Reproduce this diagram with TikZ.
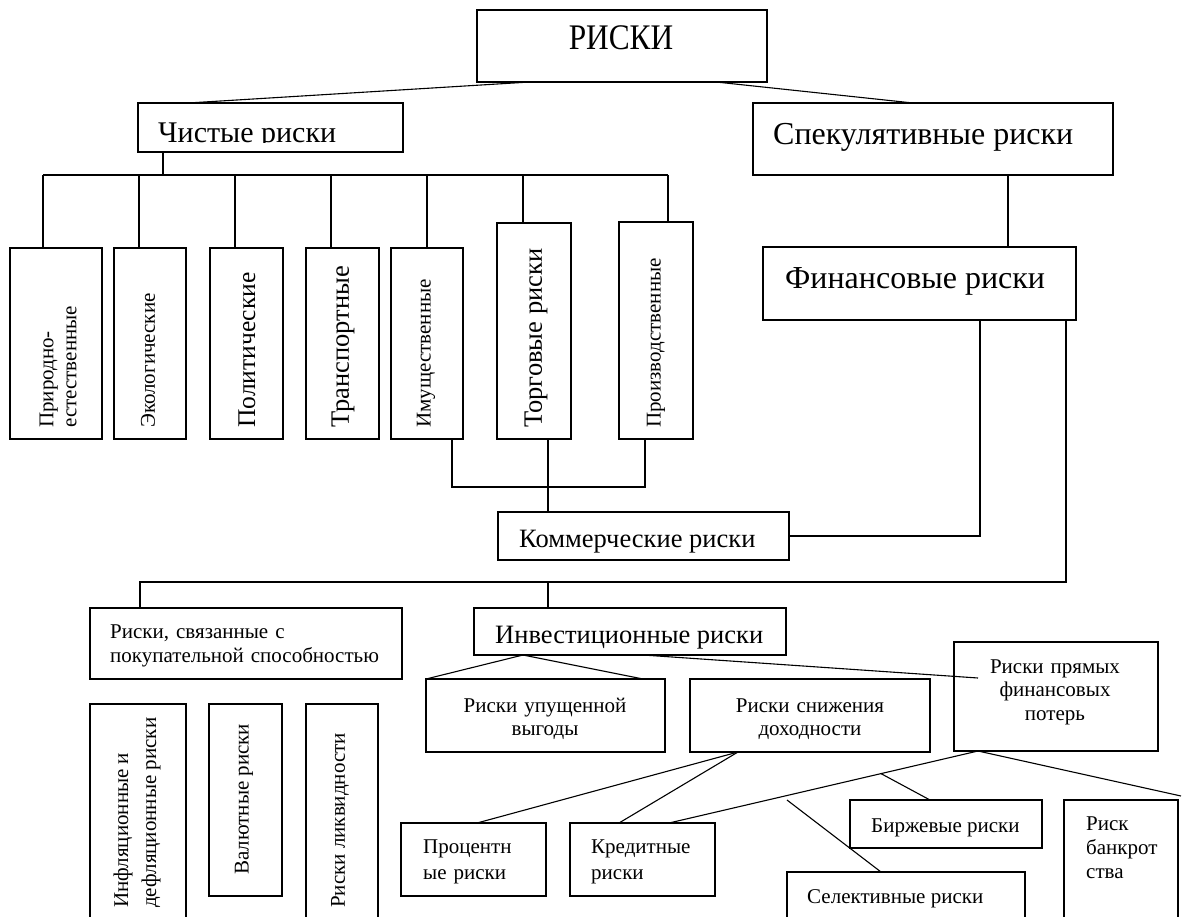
\documentclass[tikz,border=0pt]{standalone}
\usepackage{fontspec}
\setmainfont{Liberation Serif}
\usetikzlibrary{calc}
\newcommand\fS{\fontsize{21}{24}\selectfont}
\newcommand\fP{\fontsize{21}{26}\selectfont}
\newcommand\fL{\fontsize{26.5}{30}\selectfont}
\newcommand\fK{\fontsize{26.5}{30}\selectfont}
\newcommand\fB{\fontsize{32}{36}\selectfont}
\newcommand\mkbox[5]{\node[box, minimum width={(#4-#2)*1pt}, minimum height={(#5-#3)*1pt}] (#1) at (#2,#3) {};}
\tikzset{
  box/.style={draw, line width=1.4pt, inner sep=0pt, outer sep=0pt, anchor=north west},
  ln/.style={line width=1.1pt},
  txt/.style={inner sep=0pt, anchor=base west},
  ctxt/.style={inner sep=0pt, anchor=base, align=center},
  vt/.style={inner sep=0pt, rotate=90, anchor=west}
}
\begin{document}
\begin{tikzpicture}[x=1pt,y=-1pt]
\useasboundingbox (0,0) rectangle (1182,917);
\clip (0,0) rectangle (1182,917);
% boxes
\mkbox{riski}{477}{10}{767}{82}
\mkbox{chist}{138}{103}{403}{152}
\mkbox{spek}{753}{103}{1113}{175}
\mkbox{fin}{763}{247}{1076}{320}
\mkbox{prir}{10}{248}{102}{439}
\mkbox{ekol}{114}{248}{186}{439}
\mkbox{polit}{210}{248}{283}{439}
\mkbox{trans}{306}{248}{379}{439}
\mkbox{imush}{391}{248}{463}{439}
\mkbox{torg}{497}{223}{571}{439}
\mkbox{proizv}{619}{222}{693}{439}
\mkbox{komm}{498}{512}{789}{560}
\mkbox{pokup}{90}{608}{402}{679}
\mkbox{invest}{474}{608}{786}{655}
\mkbox{upush}{426}{679}{665}{752}
\mkbox{snizh}{690}{679}{930}{752}
\mkbox{pryam}{954}{642}{1158}{751}
\mkbox{infl}{90}{704}{186}{930}
\mkbox{valut}{209}{704}{282}{896}
\mkbox{likv}{306}{704}{378}{930}
\mkbox{proc}{401}{823}{546}{896}
\mkbox{kred}{570}{823}{715}{896}
\mkbox{birzh}{850}{800}{1042}{848}
\mkbox{selek}{787}{872}{1025}{930}
\mkbox{bankr}{1064}{800}{1178}{930}
% texts
\node[ctxt, font=\fontsize{36}{40}\selectfont] (triski) at (621,50) {\scalebox{0.87}[1]{РИСКИ}};
\begin{scope}
\clip (138,103) rectangle (403,143);
\node[txt, font=\fontsize{30}{34}\selectfont] (tchist) at (158,143) {Чистые риски};
\end{scope}
\node[txt, font=\fB] (tspek) at (773,145) {Спекулятивные риски};
\node[txt, font=\fB] (tfin) at (785,288) {Финансовые риски};
\node[txt, font=\fK] (tkomm) at (519,547) {Коммерческие риски};
\node[txt, font=\fK] (tinv) at (495,643) {Инвестиционные риски};
\node[txt, font=\fS, text width=300pt, align=left] (tpok) at (110,638) {Риски, связанные с\\покупательной способностью};
\node[ctxt, font=\fontsize{21}{23}\selectfont, text width=230pt] (tupu) at (545,712) {Риски упущенной\\выгоды};
\node[ctxt, font=\fontsize{21}{23}\selectfont, text width=230pt] (tsni) at (810,712) {Риски снижения\\доходности};
\node[ctxt, font=\fontsize{21}{23.5}\selectfont, text width=200pt] (tpry) at (1055,673) {Риски прямых\\финансовых\\потерь};
\node[txt, font=\fP, text width=130pt, align=left] (tproc) at (423,853) {Процентн\\ые риски};
\node[txt, font=\fP, text width=130pt, align=left] (tkred) at (591,853) {Кредитные\\риски};
\node[txt, font=\fS] (tbir) at (871,832) {Биржевые риски};
\node[txt, font=\fS] (tsel) at (807,903) {Селективные риски};
\node[txt, font=\fontsize{21}{24}\selectfont, text width=100pt, align=left] (tban) at (1086,830) {Риск\\банкрот\\ства};
% vertical texts
\node[vt, font=\fontsize{21}{23}\selectfont, align=left] (tprir) at (58,428) {Природно-\\естественные};
\node[vt, font=\fS] (tekol) at (148,428) {Экологические};
\node[vt, font=\fontsize{25.5}{29}\selectfont] (tpol) at (247,428) {Политические};
\node[vt, font=\fL] (ttra) at (343,428) {Транспортные};
\node[vt, font=\fS] (timu) at (426,428) {Имущественные};
\node[vt, font=\fL] (ttor) at (536,428) {Торговые риски};
\node[vt, font=\fS] (tpro) at (656,428) {Производственные};
\node[vt, font=\fontsize{21}{28}\selectfont, align=left] (tinf) at (137,908) {Инфляционные и\\дефляционные риски};
\node[vt, font=\fS] (tval) at (244,875) {Валютные риски};
\node[vt, font=\fS] (tlik) at (340,908) {Риски ликвидности};
% connectors
\draw[ln] (530,0 |- riski.south) -- (188,0 |- chist.north);
\draw[ln] (716,0 |- riski.south) -- (913,0 |- spek.north);
\coordinate (busL) at (43,175);
\coordinate (busR) at (668,175);
\draw[ln] (163,0 |- chist.south) -- (163,0 |- busL);
\draw[ln] (busL) -- (busR);
\foreach \x/\n in {43/prir,139/ekol,235/polit,331/trans,427/imush,523/torg,668/proizv}
  \draw[ln] (\x,0 |- busL) -- (\x,0 |- \n.north);
\draw[ln] (1008,0 |- spek.south) -- (1008,0 |- fin.north);
\coordinate (tj) at (548,487);
\draw[ln] (452,0 |- imush.south) |- (tj) -| (645,0 |- proizv.south);
\draw[ln] (548,0 |- torg.south) -- (548,0 |- komm.north);
\draw[ln] (komm.east) -| (980,0 |- fin.south);
\coordinate (bigL) at (140,582);
\draw[ln] (1066,0 |- fin.south) |- (bigL) -- (140,0 |- pokup.north);
\draw[ln] (548,0 |- bigL) -- (548,0 |- invest.north);
\draw[ln] (523,0 |- invest.south) -- (upush.north west);
\draw[ln] (523,0 |- invest.south) -- (643,0 |- upush.north);
\coordinate (pryIn) at (978,678);
\draw[ln] (643,0 |- invest.south) -- (pryIn);
\draw[ln] (738,0 |- snizh.south) -- (477,0 |- proc.north);
\draw[ln] (738,0 |- snizh.south) -- (619,0 |- kred.north);
\coordinate (prB) at (978,0 |- pryam.south);
\coordinate (krT) at (669,0 |- kred.north);
\draw[ln] (prB) -- (krT);
\coordinate (brE) at (1181,796);
\draw[ln] (prB) -- (brE);
\draw[ln] ($(prB)!0.314!(krT)$) -- (930,0 |- birzh.north);
\coordinate (selS) at (787,800);
\draw[ln] (selS) -- (881,0 |- selek.north);
\end{tikzpicture}
\end{document}
